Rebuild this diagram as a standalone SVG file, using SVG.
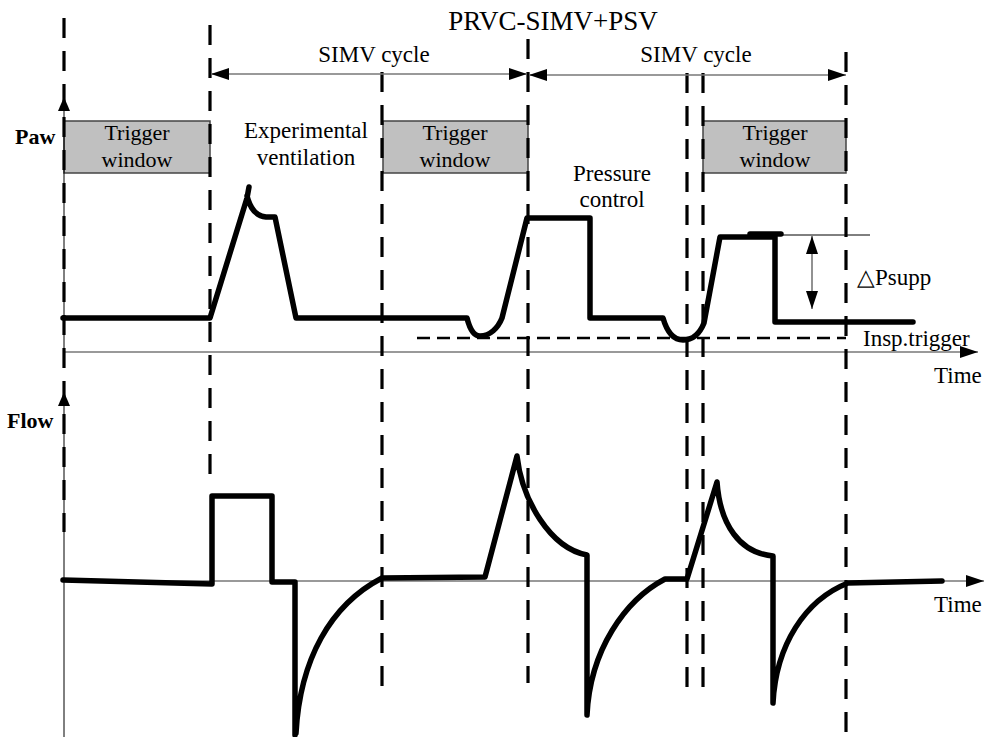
<svg xmlns="http://www.w3.org/2000/svg" width="985" height="737" viewBox="0 0 985 737">
<defs>
<style>
.t{font-family:"Liberation Serif","Times New Roman",serif;font-size:23px;fill:#000;}
.tw{font-family:"Liberation Serif","Times New Roman",serif;font-size:22px;fill:#000;text-anchor:middle;}
.b{font-family:"Liberation Serif","Times New Roman",serif;font-size:22px;font-weight:bold;fill:#000;}
.dash{stroke:#000;stroke-width:3.2;stroke-dasharray:20 13;fill:none;}
.wave{stroke:#000;stroke-width:5.5;fill:none;stroke-linejoin:round;stroke-linecap:round;}
.ax{stroke:#000;stroke-width:1;fill:none;}
.gax{stroke:#777;stroke-width:1.6;fill:none;}
.box{fill:#c0c0c0;stroke:#444;stroke-width:1.5;}
</style>
<marker id="arr" viewBox="0 0 18 12" refX="18" refY="6" markerWidth="18" markerHeight="12" markerUnits="userSpaceOnUse" orient="auto-start-reverse">
<path d="M0,0 L18,6 L0,12 z" fill="#000"/>
</marker>
<marker id="arrS" viewBox="0 0 14 12" refX="14" refY="6" markerWidth="14" markerHeight="12" markerUnits="userSpaceOnUse" orient="auto-start-reverse">
<path d="M0,0 L14,6 L0,12 z" fill="#000"/>
</marker>
</defs>
<rect width="985" height="737" fill="#fff"/>

<text class="t" x="553" y="30" text-anchor="middle" style="font-size:27px">PRVC-SIMV+PSV</text>

<g id="windows">
<g id="tw1"><rect class="box" x="64" y="121" width="146" height="52"/><text class="tw" x="137" y="140">Trigger</text><text class="tw" x="137" y="167">window</text></g>
<g id="tw2"><rect class="box" x="383" y="121" width="145" height="52"/><text class="tw" x="455" y="140">Trigger</text><text class="tw" x="455" y="167">window</text></g>
<g id="tw3"><rect class="box" x="703" y="121" width="143" height="52"/><text class="tw" x="775" y="140">Trigger</text><text class="tw" x="775" y="167">window</text></g>
</g>

<g id="labels">
<text class="t" x="306" y="138" text-anchor="middle">Experimental</text>
<text class="t" x="306" y="165" text-anchor="middle">ventilation</text>
<text class="t" x="612" y="181" text-anchor="middle">Pressure</text>
<text class="t" x="612" y="207" text-anchor="middle">control</text>
<text class="t" x="374" y="62" text-anchor="middle">SIMV cycle</text>
<text class="t" x="696" y="62" text-anchor="middle">SIMV cycle</text>
<text class="t" x="857" y="285">△Psupp</text>
<text class="t" x="863" y="346">Insp.trigger</text>
<text class="t" x="934" y="383">Time</text>
<text class="t" x="934" y="612">Time</text>
<text class="b" x="15" y="144">Paw</text>
<text class="b" x="7" y="428">Flow</text>
</g>

<g id="axes">
<line class="ax" x1="64" y1="352" x2="64" y2="97" marker-end="url(#arrS)"/>
<line class="ax" x1="64" y1="737" x2="64" y2="392" marker-end="url(#arrS)"/>
<line class="gax" x1="64" y1="352" x2="978" y2="352" marker-end="url(#arr)"/>
<line class="gax" x1="64" y1="581" x2="984" y2="581" marker-end="url(#arr)"/>
</g>

<g id="connectors">
<line class="dash" x1="64" y1="18" x2="64" y2="532"/>
<line class="dash" x1="210" y1="25" x2="210" y2="483"/>
<line class="dash" x1="382" y1="72" x2="382" y2="697"/>
<line class="dash" x1="528" y1="39" x2="528" y2="683"/>
<line class="dash" x1="687" y1="73" x2="687" y2="698"/>
<line class="dash" x1="703" y1="73" x2="703" y2="698"/>
<line class="dash" x1="846" y1="52" x2="846" y2="737"/>
<line class="gax" x1="211" y1="74" x2="527" y2="74" marker-start="url(#arr)" marker-end="url(#arr)"/>
<line class="gax" x1="529" y1="75" x2="846" y2="75" marker-start="url(#arr)" marker-end="url(#arr)"/>
<line stroke="#000" stroke-width="2.5" stroke-dasharray="13 7" x1="417" y1="338" x2="846" y2="338"/>
<line class="ax" x1="780" y1="235" x2="870" y2="235"/>
<line class="gax" x1="812" y1="236" x2="812" y2="309" marker-start="url(#arr)" marker-end="url(#arr)"/>
</g>

<g id="paw">
<path class="wave" d="M63,318 L210,318 L247,198 L249,187 M247,196 C250,208 256,216 266,217 L275,217 L296,318 L467,318 C470,330 474,336 480,336 C490,336 498,328 502,318 L527,218 L590,218 L590,318 L663,318 C667,332 673,340 683,340 C693,340 700,333 704,323 L720,237 L775,237 L775,322 L913,322"/>
<path class="wave" d="M750,234 L781,234"/>
</g>

<g id="flow">
<path class="wave" d="M63,580 L212,584 L212,496 L272,496 L272,582 L295,582 L295,735 M296,733 C300,660 330,605 382,578 L485,577 L517,456 C522,500 550,548 587,555 L587,715 C590,650 625,600 665,579 L687,579 L717,482 C720,525 740,553 773,556 L773,703 C776,645 805,600 848,583 L942,581"/>
</g>
</svg>
